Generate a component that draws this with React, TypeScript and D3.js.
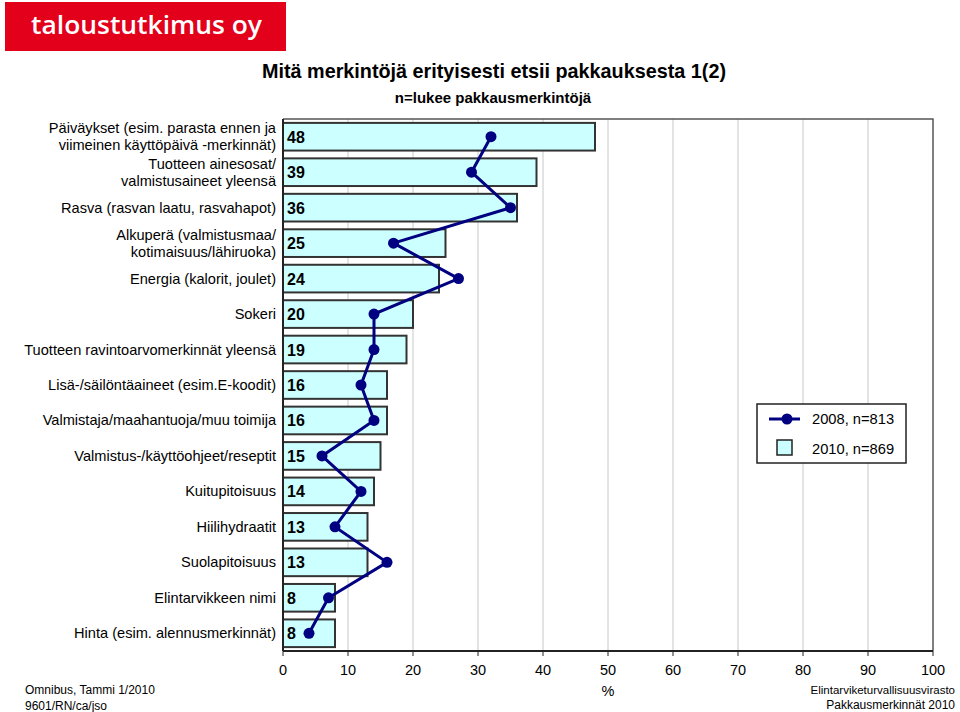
import React, { useEffect, useRef } from 'react';
import * as d3 from 'd3';

// categories (two-line labels split with |)
const categories = [
  'Päiväykset (esim. parasta ennen ja|viimeinen käyttöpäivä -merkinnät)',
  'Tuotteen ainesosat/|valmistusaineet yleensä',
  'Rasva (rasvan laatu, rasvahapot)',
  'Alkuperä (valmistusmaa/|kotimaisuus/lähiruoka)',
  'Energia (kalorit, joulet)',
  'Sokeri',
  'Tuotteen ravintoarvomerkinnät yleensä',
  'Lisä-/säilöntäaineet (esim.E-koodit)',
  'Valmistaja/maahantuoja/muu toimija',
  'Valmistus-/käyttöohjeet/reseptit',
  'Kuitupitoisuus',
  'Hiilihydraatit',
  'Suolapitoisuus',
  'Elintarvikkeen nimi',
  'Hinta (esim. alennusmerkinnät)',
];
const values2010 = [48, 39, 36, 25, 24, 20, 19, 16, 16, 15, 14, 13, 13, 8, 8];
const values2008 = [32, 29, 35, 17, 27, 14, 14, 12, 14, 6, 12, 8, 16, 7, 4];
const xTicks = [0, 10, 20, 30, 40, 50, 60, 70, 80, 90, 100];

const W = 960;
const H = 712;
const left = 283;
const right = 933;
const top = 119;
const bottom = 651;
const font = 'Arial, "Liberation Sans", Helvetica, sans-serif';
const navy = '#000080';

export default function App() {
  const ref = useRef<SVGSVGElement>(null);

  useEffect(() => {
    const svg = d3.select(ref.current);
    svg.selectAll('*').remove();

    const x = d3.scaleLinear().domain([0, 100]).range([left, right]);
    const y = d3.scaleBand<number>().domain(d3.range(categories.length)).range([top, bottom]).paddingInner(0.22).paddingOuter(0.11);

    // logo
    svg.append('rect').attr('x', 5).attr('y', 2).attr('width', 281).attr('height', 49).attr('fill', '#e2001a');
    svg.append('text').attr('x', 31).attr('y', 34).attr('fill', '#fff')
      .attr('font-family', '"Open Sans", "DejaVu Sans", sans-serif').attr('font-size', 25).attr('font-weight', 600)
      .attr('textLength', 231).attr('lengthAdjust', 'spacingAndGlyphs')
      .text('taloustutkimus oy');

    // titles
    svg.append('text').attr('x', 494).attr('y', 78).attr('text-anchor', 'middle')
      .attr('font-family', font).attr('font-size', 19.8).attr('font-weight', 'bold')
      .text('Mitä merkintöjä erityisesti etsii pakkauksesta 1(2)');
    svg.append('text').attr('x', 493).attr('y', 103).attr('text-anchor', 'middle')
      .attr('font-family', font).attr('font-size', 15).attr('font-weight', 'bold')
      .text('n=lukee pakkausmerkintöjä');

    // grid
    svg.append('g').selectAll('line').data(xTicks.slice(1, -1)).join('line')
      .attr('x1', d => x(d)).attr('x2', d => x(d)).attr('y1', top).attr('y2', bottom)
      .attr('stroke', '#c8c8c8').attr('stroke-width', 1);

    // frame top / right
    svg.append('path').attr('d', `M${left},${top}H${right}V${bottom}`)
      .attr('fill', 'none').attr('stroke', '#555').attr('stroke-width', 1.5);

    // bars
    svg.append('g').selectAll('rect').data(values2010).join('rect')
      .attr('x', x(0)).attr('y', (_, i) => y(i)!)
      .attr('width', d => x(d) - x(0)).attr('height', y.bandwidth())
      .attr('fill', '#ccffff').attr('stroke', '#333').attr('stroke-width', 2);

    // bar value labels
    svg.append('g').selectAll('text').data(values2010).join('text')
      .attr('x', x(0) + 4).attr('y', (_, i) => y(i)! + y.bandwidth() / 2 + 6)
      .attr('font-family', font).attr('font-size', 16).attr('font-weight', 'bold')
      .text(d => d);

    // category labels
    const lab = svg.append('g').attr('font-family', font).attr('font-size', 14.6).attr('text-anchor', 'end');
    categories.forEach((c, i) => {
      const lines = c.split('|');
      const cy = y(i)! + y.bandwidth() / 2;
      lines.forEach((ln, j) => {
        lab.append('text').attr('x', 276)
          .attr('y', cy + 5 + (j - (lines.length - 1) / 2) * 17)
          .text(ln);
      });
    });

    // 2008 line
    const cy = (i: number) => y(i)! + y.bandwidth() / 2;
    const line = d3.line<number>().x(d => x(d)).y((_, i) => cy(i));
    svg.append('path').attr('d', line(values2008)).attr('fill', 'none').attr('stroke', navy).attr('stroke-width', 3);
    svg.append('g').selectAll('circle').data(values2008).join('circle')
      .attr('cx', d => x(d)).attr('cy', (_, i) => cy(i)).attr('r', 5.5).attr('fill', navy);

    // x axis
    const axis = svg.append('g').attr('transform', `translate(0,${bottom})`);
    axis.append('line').attr('x1', left).attr('x2', right).attr('stroke', '#222').attr('stroke-width', 2);
    axis.selectAll('line.t').data(xTicks).join('line').attr('class', 't')
      .attr('x1', d => x(d)).attr('x2', d => x(d)).attr('y1', 0).attr('y2', 5)
      .attr('stroke', '#222').attr('stroke-width', 1);
    axis.selectAll('text').data(xTicks).join('text')
      .attr('x', d => x(d)).attr('y', 24).attr('text-anchor', 'middle')
      .attr('font-family', font).attr('font-size', 14.5).text(d => d);
    // left axis line
    svg.append('line').attr('x1', left).attr('x2', left).attr('y1', top).attr('y2', bottom)
      .attr('stroke', '#222').attr('stroke-width', 2);

    svg.append('text').attr('x', x(50)).attr('y', 696).attr('text-anchor', 'middle')
      .attr('font-family', font).attr('font-size', 14.5).text('%');

    // legend
    const lg = svg.append('g');
    lg.append('rect').attr('x', 757).attr('y', 404).attr('width', 149).attr('height', 59)
      .attr('fill', '#fff').attr('stroke', '#222').attr('stroke-width', 1.5);
    lg.append('line').attr('x1', 769).attr('x2', 800).attr('y1', 419).attr('y2', 419).attr('stroke', navy).attr('stroke-width', 3);
    lg.append('circle').attr('cx', 787).attr('cy', 419).attr('r', 5.5).attr('fill', navy);
    lg.append('rect').attr('x', 777).attr('y', 440).attr('width', 15).attr('height', 15)
      .attr('fill', '#ccffff').attr('stroke', '#222').attr('stroke-width', 1.5);
    lg.append('text').attr('x', 812).attr('y', 424).attr('font-family', font).attr('font-size', 14.7).text('2008, n=813');
    lg.append('text').attr('x', 812).attr('y', 454).attr('font-family', font).attr('font-size', 14.7).text('2010, n=869');

    // footer
    const ft = svg.append('g').attr('font-family', font).attr('font-size', 12);
    ft.append('text').attr('x', 25).attr('y', 694).text('Omnibus, Tammi 1/2010');
    ft.append('text').attr('x', 25).attr('y', 710).text('9601/RN/ca/jso');
    ft.append('text').attr('x', 955).attr('y', 694).attr('text-anchor', 'end').attr('font-size', 11.5).text('Elintarviketurvallisuusvirasto');
    ft.append('text').attr('x', 955).attr('y', 709).attr('text-anchor', 'end').text('Pakkausmerkinnät 2010');
  }, []);

  return (
    <svg ref={ref} width={W} height={H} style={{ position: 'absolute', left: 0, top: 0, background: '#fff' }} />
  );
}
